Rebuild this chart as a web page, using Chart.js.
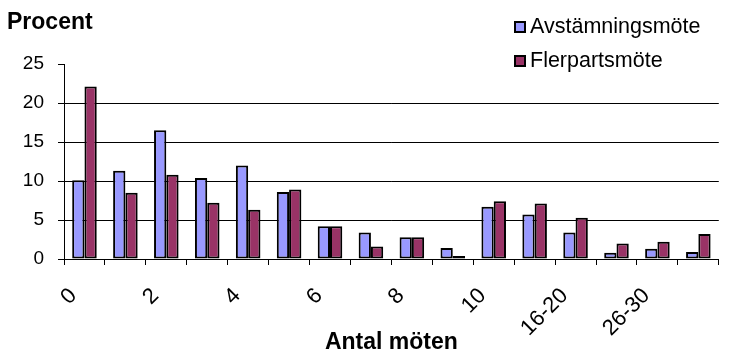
<!DOCTYPE html>
<html>
<head>
<meta charset="utf-8">
<script src="https://cdn.jsdelivr.net/npm/chart.js@4/dist/chart.umd.min.js"></script>
<style>
html,body{margin:0;padding:0;background:#fff;}
canvas{display:block;}
</style>
</head>
<body>
<canvas id="c" width="735" height="352"></canvas>
<script>
const categories = ['0','1','2','3','4','5','6','7','8','9','10','11-15','16-20','21-25','26-30','>30'];
const xTickLabels = ['0','','2','','4','','6','','8','','10','','16-20','','26-30',''];
const avstamningsmote = [10.1, 11.3, 16.5, 10.4, 12.0, 8.6, 4.2, 3.4, 2.8, 1.4, 6.7, 5.7, 3.4, 0.8, 1.3, 0.9];
const flerpartsmote = [22.1, 8.5, 10.8, 7.2, 6.3, 8.9, 4.2, 1.6, 2.8, 0.4, 7.4, 7.1, 5.3, 2.0, 2.2, 3.2];
const seriesNames = ['Avstämningsmöte', 'Flerpartsmöte'];
const yTicks = [0, 5, 10, 15, 20, 25];
const yTitle = 'Procent';
const xTitle = 'Antal möten';

const FONT = "'Liberation Sans', Arial, sans-serif";

const extras = {
  id: 'extras',
  afterDraw(chart) {
    const ctx = chart.ctx;
    ctx.save();
    ctx.fillStyle = '#000';
    ctx.font = 'bold 23px ' + FONT;
    ctx.textBaseline = 'alphabetic';
    ctx.textAlign = 'left';
    ctx.fillText(yTitle, 7, 29);
    // legend
    ctx.font = '21.5px ' + FONT;
    chart.data.datasets.forEach((ds, i) => {
      const y = 21 + i * 34;
      ctx.fillStyle = ds.backgroundColor;
      ctx.fillRect(514, y, 12, 12);
      ctx.strokeStyle = '#000';
      ctx.lineWidth = 2;
      ctx.strokeRect(515, y + 1, 10, 10);
      ctx.fillStyle = '#000';
      ctx.fillText(ds.label, 530, y + 12);
    });
    ctx.restore();
  }
};

new Chart(document.getElementById('c'), {
  type: 'bar',
  data: {
    labels: categories,
    datasets: [
      { label: seriesNames[0], data: avstamningsmote, backgroundColor: '#9999FF', borderColor: '#000', borderWidth: 2, borderSkipped: false },
      { label: seriesNames[1], data: flerpartsmote, backgroundColor: '#993366', borderColor: '#000', borderWidth: 2, borderSkipped: false }
    ]
  },
  options: {
    responsive: false,
    animation: false,
    datasets: { bar: { categoryPercentage: 0.6, barPercentage: 1.0 } },
    layout: { padding: { top: 64, left: 0, right: 0, bottom: 0 } },
    plugins: { legend: { display: false }, tooltip: { enabled: false }, title: { display: false } },
    scales: {
      x: {
        grid: { display: true, drawOnChartArea: false, drawTicks: true, tickLength: 6, color: '#000', lineWidth: 1, offset: true },
        border: { display: true, color: '#000', width: 1 },
        ticks: {
          autoSkip: false, minRotation: 45, maxRotation: 45, padding: 18, labelOffset: -11,
          color: '#000', font: { family: FONT, size: 22 },
          callback: (v, i) => xTickLabels[i]
        },
        title: { display: true, text: xTitle, color: '#000', font: { family: FONT, size: 23, weight: 'bold' }, padding: { top: 0, bottom: -4 } },
        afterFit(scale) { scale.height = 93; }
      },
      y: {
        min: 0, max: 25,
        afterBuildTicks(scale) { scale.ticks = yTicks.map(v => ({ value: v })); },
        grid: {
          color: (c) => (c.tick && c.tick.value === 25) ? 'rgba(0,0,0,0)' : '#000',
          tickColor: '#000', tickLength: 6, lineWidth: 1, drawTicks: true
        },
        border: { display: true, color: '#000', width: 1 },
        ticks: { color: '#000', font: { family: FONT, size: 19 }, padding: 14 },
        afterFit(scale) { scale.width = 64; }
      }
    }
  },
  plugins: [extras]
});
</script>
</body>
</html>
